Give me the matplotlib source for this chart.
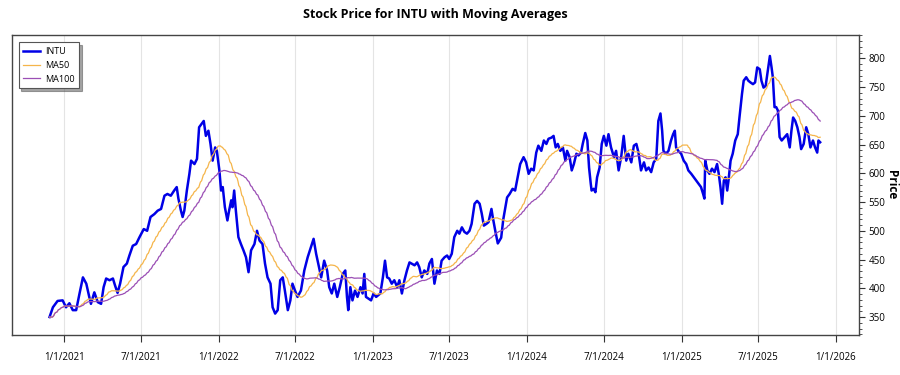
import matplotlib
matplotlib.use("Agg")
import matplotlib.pyplot as plt
from matplotlib.ticker import MultipleLocator
import pandas as pd

# INTU close prices
dates = [
    "2020-11-27", "2020-12-05", "2020-12-16", "2020-12-28", "2021-01-05", "2021-01-13",
    "2021-01-21", "2021-01-29", "2021-02-06", "2021-02-14", "2021-02-22", "2021-03-01",
    "2021-03-05", "2021-03-13", "2021-03-21", "2021-03-29", "2021-04-04", "2021-04-10",
    "2021-04-18", "2021-04-26", "2021-05-01", "2021-05-07", "2021-05-13", "2021-05-21",
    "2021-05-29", "2021-06-04", "2021-06-12", "2021-06-20", "2021-06-28", "2021-07-08",
    "2021-07-16", "2021-07-24", "2021-08-02", "2021-08-10", "2021-08-18", "2021-08-26",
    "2021-09-02", "2021-09-10", "2021-09-18", "2021-09-24", "2021-09-28", "2021-10-04",
    "2021-10-08", "2021-10-12", "2021-10-18", "2021-10-24", "2021-10-28", "2021-11-05",
    "2021-11-11", "2021-11-16", "2021-11-22", "2021-11-27", "2021-12-02", "2021-12-08",
    "2021-12-13", "2021-12-18", "2021-12-24", "2021-12-28", "2022-01-03", "2022-01-07",
    "2022-01-11", "2022-01-16", "2022-01-22", "2022-01-26", "2022-01-31", "2022-02-03",
    "2022-02-07", "2022-02-11", "2022-02-17", "2022-02-23", "2022-03-01", "2022-03-07",
    "2022-03-13", "2022-03-19", "2022-03-27", "2022-04-02", "2022-04-08", "2022-04-15",
    "2022-04-21", "2022-04-27", "2022-05-04", "2022-05-09", "2022-05-15", "2022-05-21",
    "2022-05-27", "2022-06-02", "2022-06-07", "2022-06-14", "2022-06-20", "2022-06-25",
    "2022-07-01", "2022-07-07", "2022-07-15", "2022-07-23", "2022-07-31", "2022-08-08",
    "2022-08-14", "2022-08-20", "2022-08-25", "2022-09-01", "2022-09-08", "2022-09-15",
    "2022-09-20", "2022-09-26", "2022-10-02", "2022-10-09", "2022-10-15", "2022-10-22",
    "2022-10-28", "2022-11-01", "2022-11-04", "2022-11-09", "2022-11-14", "2022-11-20",
    "2022-11-26", "2022-12-03", "2022-12-08", "2022-12-12", "2022-12-16", "2022-12-22",
    "2022-12-28", "2023-01-03", "2023-01-09", "2023-01-14", "2023-01-19", "2023-01-25",
    "2023-01-30", "2023-02-04", "2023-02-09", "2023-02-15", "2023-02-21", "2023-02-28",
    "2023-03-05", "2023-03-11", "2023-03-17", "2023-03-23", "2023-03-29", "2023-04-03",
    "2023-04-10", "2023-04-16", "2023-04-21", "2023-04-27", "2023-05-03", "2023-05-10",
    "2023-05-15", "2023-05-21", "2023-05-27", "2023-06-02", "2023-06-08", "2023-06-13",
    "2023-06-20", "2023-06-26", "2023-07-01", "2023-07-07", "2023-07-13", "2023-07-20",
    "2023-07-25", "2023-07-31", "2023-08-06", "2023-08-12", "2023-08-18", "2023-08-23",
    "2023-08-30", "2023-09-05", "2023-09-11", "2023-09-16", "2023-09-21", "2023-09-27",
    "2023-10-02", "2023-10-09", "2023-10-12", "2023-10-18", "2023-10-24", "2023-11-01",
    "2023-11-06", "2023-11-15", "2023-11-21", "2023-11-28", "2023-12-04", "2023-12-10",
    "2023-12-16", "2023-12-24", "2023-12-30", "2024-01-05", "2024-01-11", "2024-01-17",
    "2024-01-23", "2024-01-28", "2024-02-04", "2024-02-10", "2024-02-16", "2024-02-21",
    "2024-02-28", "2024-03-04", "2024-03-09", "2024-03-14", "2024-03-20", "2024-03-26",
    "2024-04-01", "2024-04-05", "2024-04-11", "2024-04-16", "2024-04-21", "2024-04-27",
    "2024-05-02", "2024-05-08", "2024-05-12", "2024-05-18", "2024-05-23", "2024-05-27",
    "2024-05-31", "2024-06-02", "2024-06-07", "2024-06-11", "2024-06-15", "2024-06-21",
    "2024-06-26", "2024-07-01", "2024-07-07", "2024-07-12", "2024-07-18", "2024-07-25",
    "2024-07-30", "2024-08-05", "2024-08-11", "2024-08-17", "2024-08-23", "2024-08-28",
    "2024-09-04", "2024-09-10", "2024-09-16", "2024-09-21", "2024-09-27", "2024-10-04",
    "2024-10-09", "2024-10-15", "2024-10-21", "2024-10-27", "2024-11-02", "2024-11-07",
    "2024-11-12", "2024-11-16", "2024-11-19", "2024-11-25", "2024-12-01", "2024-12-07",
    "2024-12-12", "2024-12-16", "2024-12-19", "2024-12-24", "2024-12-31", "2025-01-06",
    "2025-01-12", "2025-01-17", "2025-01-24", "2025-01-30", "2025-02-05", "2025-02-10",
    "2025-02-16", "2025-02-21", "2025-02-24", "2025-02-26", "2025-03-03", "2025-03-08",
    "2025-03-14", "2025-03-20", "2025-03-26", "2025-03-30", "2025-04-03", "2025-04-07",
    "2025-04-11", "2025-04-15", "2025-04-19", "2025-04-22", "2025-04-27", "2025-05-02",
    "2025-05-08", "2025-05-14", "2025-05-18", "2025-05-24", "2025-05-28", "2025-06-03",
    "2025-06-08", "2025-06-13", "2025-06-19", "2025-06-24", "2025-06-29", "2025-07-05",
    "2025-07-09", "2025-07-14", "2025-07-19", "2025-07-24", "2025-07-29", "2025-08-02",
    "2025-08-05", "2025-08-09", "2025-08-13", "2025-08-17", "2025-08-21", "2025-08-26",
    "2025-09-02", "2025-09-08", "2025-09-14", "2025-09-18", "2025-09-22", "2025-09-27",
    "2025-10-02", "2025-10-07", "2025-10-11", "2025-10-17", "2025-10-23", "2025-10-28",
    "2025-11-02", "2025-11-08", "2025-11-13", "2025-11-18", "2025-11-21", "2025-11-25",
]
prices = [
    350, 367, 378, 379, 367, 374, 362, 362, 391, 419, 408, 385,
    373, 393, 376, 373, 402, 417, 414, 417, 405, 392, 408, 437,
    443, 457, 474, 477, 489, 503, 500, 524, 529, 535, 538, 561,
    564, 561, 570, 576, 556, 535, 524, 535, 570, 599, 622, 616,
    625, 680, 686, 691, 665, 674, 651, 622, 645, 639, 605, 570,
    576, 541, 518, 535, 553, 541, 570, 535, 489, 477, 466, 454,
    428, 466, 477, 500, 483, 477, 443, 419, 408, 367, 356, 362,
    414, 419, 396, 362, 379, 408, 396, 385, 396, 431, 454, 472,
    486, 460, 443, 419, 448, 431, 402, 391, 408, 385, 402, 425,
    431, 385, 362, 402, 379, 396, 385, 402, 391, 425, 385, 382,
    379, 391, 385, 388, 391, 419, 448, 419, 417, 408, 414, 402,
    414, 391, 414, 431, 445, 443, 440, 445, 437, 419, 431, 425,
    443, 451, 408, 431, 425, 448, 454, 457, 451, 460, 489, 500,
    495, 506, 498, 495, 500, 512, 547, 552, 547, 530, 509, 512,
    515, 538, 524, 500, 478, 488, 520, 558, 564, 573, 570, 593,
    616, 628, 619, 599, 608, 605, 636, 648, 639, 657, 651, 660,
    662, 665, 645, 651, 639, 645, 622, 639, 628, 605, 616, 634,
    631, 636, 651, 670, 657, 610, 582, 570, 573, 567, 593, 610,
    651, 665, 648, 668, 645, 628, 639, 605, 628, 665, 622, 634,
    619, 648, 651, 636, 605, 619, 605, 610, 602, 619, 625, 691,
    704, 674, 639, 634, 639, 657, 668, 674, 645, 639, 634, 622,
    616, 605, 599, 593, 587, 582, 576, 564, 556, 622, 605, 599,
    608, 602, 616, 599, 576, 547, 587, 593, 570, 587, 622, 634,
    657, 668, 697, 738, 761, 767, 761, 758, 755, 758, 784, 781,
    761, 749, 752, 778, 804, 784, 767, 715, 715, 709, 663, 657,
    663, 668, 645, 674, 697, 691, 680, 663, 642, 651, 680, 668,
    645, 657, 645, 636, 657, 654,
]

tick_dates = ["2021-01-01", "2021-07-01", "2022-01-01", "2022-07-01", "2023-01-01", "2023-07-01",
              "2024-01-01", "2024-07-01", "2025-01-01", "2025-07-01", "2026-01-01"]
tick_labels = ["1/1/2021", "7/1/2021", "1/1/2022", "7/1/2022", "1/1/2023", "7/1/2023",
               "1/1/2024", "7/1/2024", "1/1/2025", "7/1/2025", "1/1/2026"]

s = pd.Series(prices, index=pd.to_datetime(dates))
# moving averages over 50 / 100 trading days (last reading held each business day)
bdays = pd.bdate_range(s.index[0], s.index[-1])
held = s.reindex(s.index.union(bdays)).ffill().reindex(bdays)
ma50 = held.rolling(50, min_periods=1).mean()
ma100 = held.rolling(100, min_periods=1).mean()

plt.rcParams["font.family"] = ["Open Sans", "DejaVu Sans"]

fig = plt.figure(figsize=(9, 3.75), dpi=100)
ax = fig.add_axes([0.0128, 0.107, 0.9412, 0.8005])

ax.plot(s.index, s.values, color="#0000e6", lw=1.8, label="INTU", zorder=3)
ax.plot(ma50.index, ma50.values, color="#f5b54a", lw=0.9, label="MA50", zorder=4)
ax.plot(ma100.index, ma100.values, color="#9b4fb5", lw=0.9, label="MA100", zorder=4)

ax.set_xlim(pd.Timestamp("2020-08-29"), pd.Timestamp("2026-02-24"))
ax.set_ylim(319, 841)

ax.set_xticks(pd.to_datetime(tick_dates))
ax.set_xticklabels(tick_labels, fontsize=7)
ax.tick_params(axis="x", length=5, pad=7, color="#333333")
ax.grid(axis="x", color="#e4e4e4", lw=0.8)
ax.set_axisbelow(True)

ax.yaxis.tick_right()
ax.yaxis.set_label_position("right")
ax.yaxis.set_major_locator(MultipleLocator(50))
ax.yaxis.set_minor_locator(MultipleLocator(10))
ax.tick_params(axis="y", which="major", length=4, labelsize=7, pad=3, color="#333333")
ax.tick_params(axis="y", which="minor", length=2, color="#333333")
ax.set_ylabel("Price", fontsize=8.5, fontweight="bold", rotation=-90, labelpad=9)

for sp in ax.spines.values():
    sp.set_color("#444444")
    sp.set_linewidth(1)

ax.set_title("Stock Price for INTU with Moving Averages", fontsize=9, fontweight="bold", pad=12)

leg = ax.legend(loc="upper left", fontsize=6.5, frameon=True, fancybox=False, shadow=True,
                handlelength=1.9, handletextpad=0.5, borderpad=0.5, labelspacing=0.55,
                bbox_to_anchor=(0.003, 0.99))
leg.get_frame().set_edgecolor("#555555")
leg.get_frame().set_linewidth(0.8)

fig.savefig("out.png", dpi=100)
